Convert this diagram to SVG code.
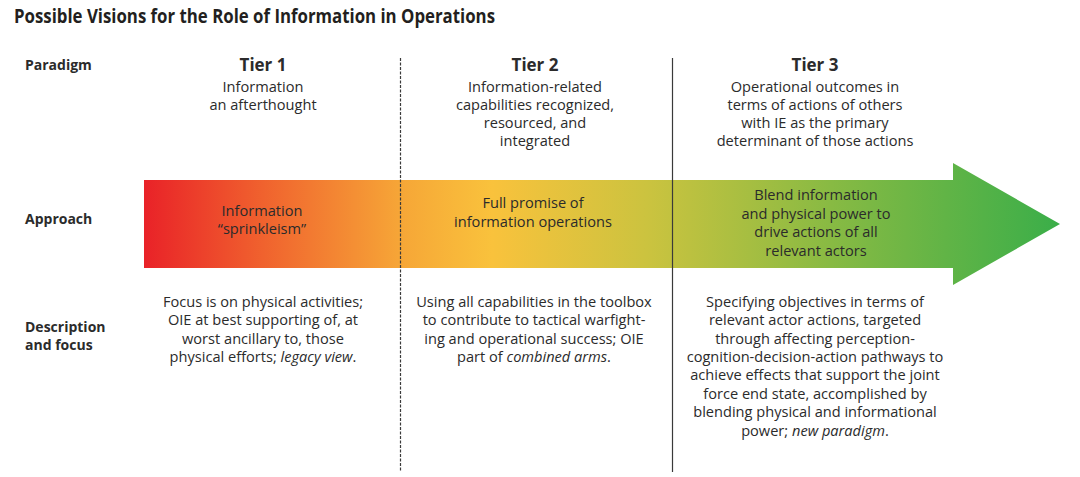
<svg xmlns="http://www.w3.org/2000/svg" width="1080" height="477" viewBox="0 0 1080 477">
  <defs>
    <linearGradient id="arrowFill" gradientUnits="userSpaceOnUse" x1="144" y1="0" x2="1060" y2="0">
      <stop offset="0" stop-color="#e92228"/>
      <stop offset="0.13" stop-color="#f0622e"/>
      <stop offset="0.28" stop-color="#f6a637"/>
      <stop offset="0.38" stop-color="#f9c23c"/>
      <stop offset="0.55" stop-color="#cbc33f"/>
      <stop offset="0.75" stop-color="#88ba43"/>
      <stop offset="1" stop-color="#3aae49"/>
    </linearGradient>
    <style>
      text { font-family: "Open Sans", "Noto Sans", "Liberation Sans", sans-serif; fill: #2b2b2b; }
      .title { font-size: 20px; font-weight: 700; fill: #231f20; }
      .row { font-size: 14px; font-weight: 700; }
      .tier { font-size: 17px; font-weight: 700; text-anchor: middle; }
      .body { font-size: 14.6px; text-anchor: middle; }
      .em { font-style: italic; }
      .divider { stroke: #3a3a3a; stroke-width: 1.2; fill: none; }
      .dashed { stroke-dasharray: 3 1.5; }
    </style>
  </defs>

  <rect x="0" y="0" width="1080" height="477" fill="#ffffff"/>

  <text class="title" x="14" y="23" textLength="481" lengthAdjust="spacingAndGlyphs">Possible Visions for the Role of Information in Operations</text>

  <!-- row headings -->
  <g id="row-labels">
    <text class="row" x="25" y="70">Paradigm</text>
    <text class="row" x="25" y="224">Approach</text>
    <text class="row" x="25" y="332">Description</text>
    <text class="row" x="25" y="350">and focus</text>
  </g>

  <!-- gradient arrow running across all three tiers -->
  <g id="arrow">
    <path d="M144,180 H953 V163 L1060,224 L953,285 V268 H144 Z" fill="url(#arrowFill)"/>
  </g>

  <!-- tier separators -->
  <g id="connectors">
    <line class="divider dashed" x1="400.5" y1="58" x2="400.5" y2="472"/>
    <line class="divider" x1="672.5" y1="58" x2="672.5" y2="472"/>
  </g>

  <g id="tier1">
    <text class="tier" x="263" y="71">Tier 1</text>
    <text class="body" x="263" y="92">Information</text>
    <text class="body" x="263" y="110">an afterthought</text>
    <text class="body" x="262" y="216">Information</text>
    <text class="body" x="262" y="234">“sprinkleism”</text>
    <text class="body" x="263" y="307">Focus is on physical activities;</text>
    <text class="body" x="263" y="325">OIE at best supporting of, at</text>
    <text class="body" x="263" y="344">worst ancillary to, those</text>
    <text class="body" x="263" y="362">physical efforts; <tspan class="em">legacy view</tspan>.</text>
  </g>

  <g id="tier2">
    <text class="tier" x="535" y="71">Tier 2</text>
    <text class="body" x="535" y="92">Information-related</text>
    <text class="body" x="535" y="110">capabilities recognized,</text>
    <text class="body" x="535" y="128">resourced, and</text>
    <text class="body" x="535" y="146">integrated</text>
    <text class="body" x="533" y="208">Full promise of</text>
    <text class="body" x="533" y="227">information operations</text>
    <text class="body" x="534" y="307">Using all capabilities in the toolbox</text>
    <text class="body" x="534" y="325">to contribute to tactical warfight-</text>
    <text class="body" x="534" y="344">ing and operational success; OIE</text>
    <text class="body" x="534" y="362">part of <tspan class="em">combined arms</tspan>.</text>
  </g>

  <g id="tier3">
    <text class="tier" x="815" y="71">Tier 3</text>
    <text class="body" x="815" y="92">Operational outcomes in</text>
    <text class="body" x="815" y="110">terms of actions of others</text>
    <text class="body" x="815" y="128">with IE as the primary</text>
    <text class="body" x="815" y="146">determinant of those actions</text>
    <text class="body" x="816" y="200">Blend information</text>
    <text class="body" x="816" y="219">and physical power to</text>
    <text class="body" x="816" y="237">drive actions of all</text>
    <text class="body" x="816" y="256">relevant actors</text>
    <text class="body" x="815" y="307">Specifying objectives in terms of</text>
    <text class="body" x="815" y="325">relevant actor actions, targeted</text>
    <text class="body" x="815" y="344">through affecting perception-</text>
    <text class="body" x="815" y="362">cognition-decision-action pathways to</text>
    <text class="body" x="815" y="380">achieve effects that support the joint</text>
    <text class="body" x="815" y="399">force end state, accomplished by</text>
    <text class="body" x="815" y="417">blending physical and informational</text>
    <text class="body" x="815" y="436">power; <tspan class="em">new paradigm</tspan>.</text>
  </g>
</svg>
